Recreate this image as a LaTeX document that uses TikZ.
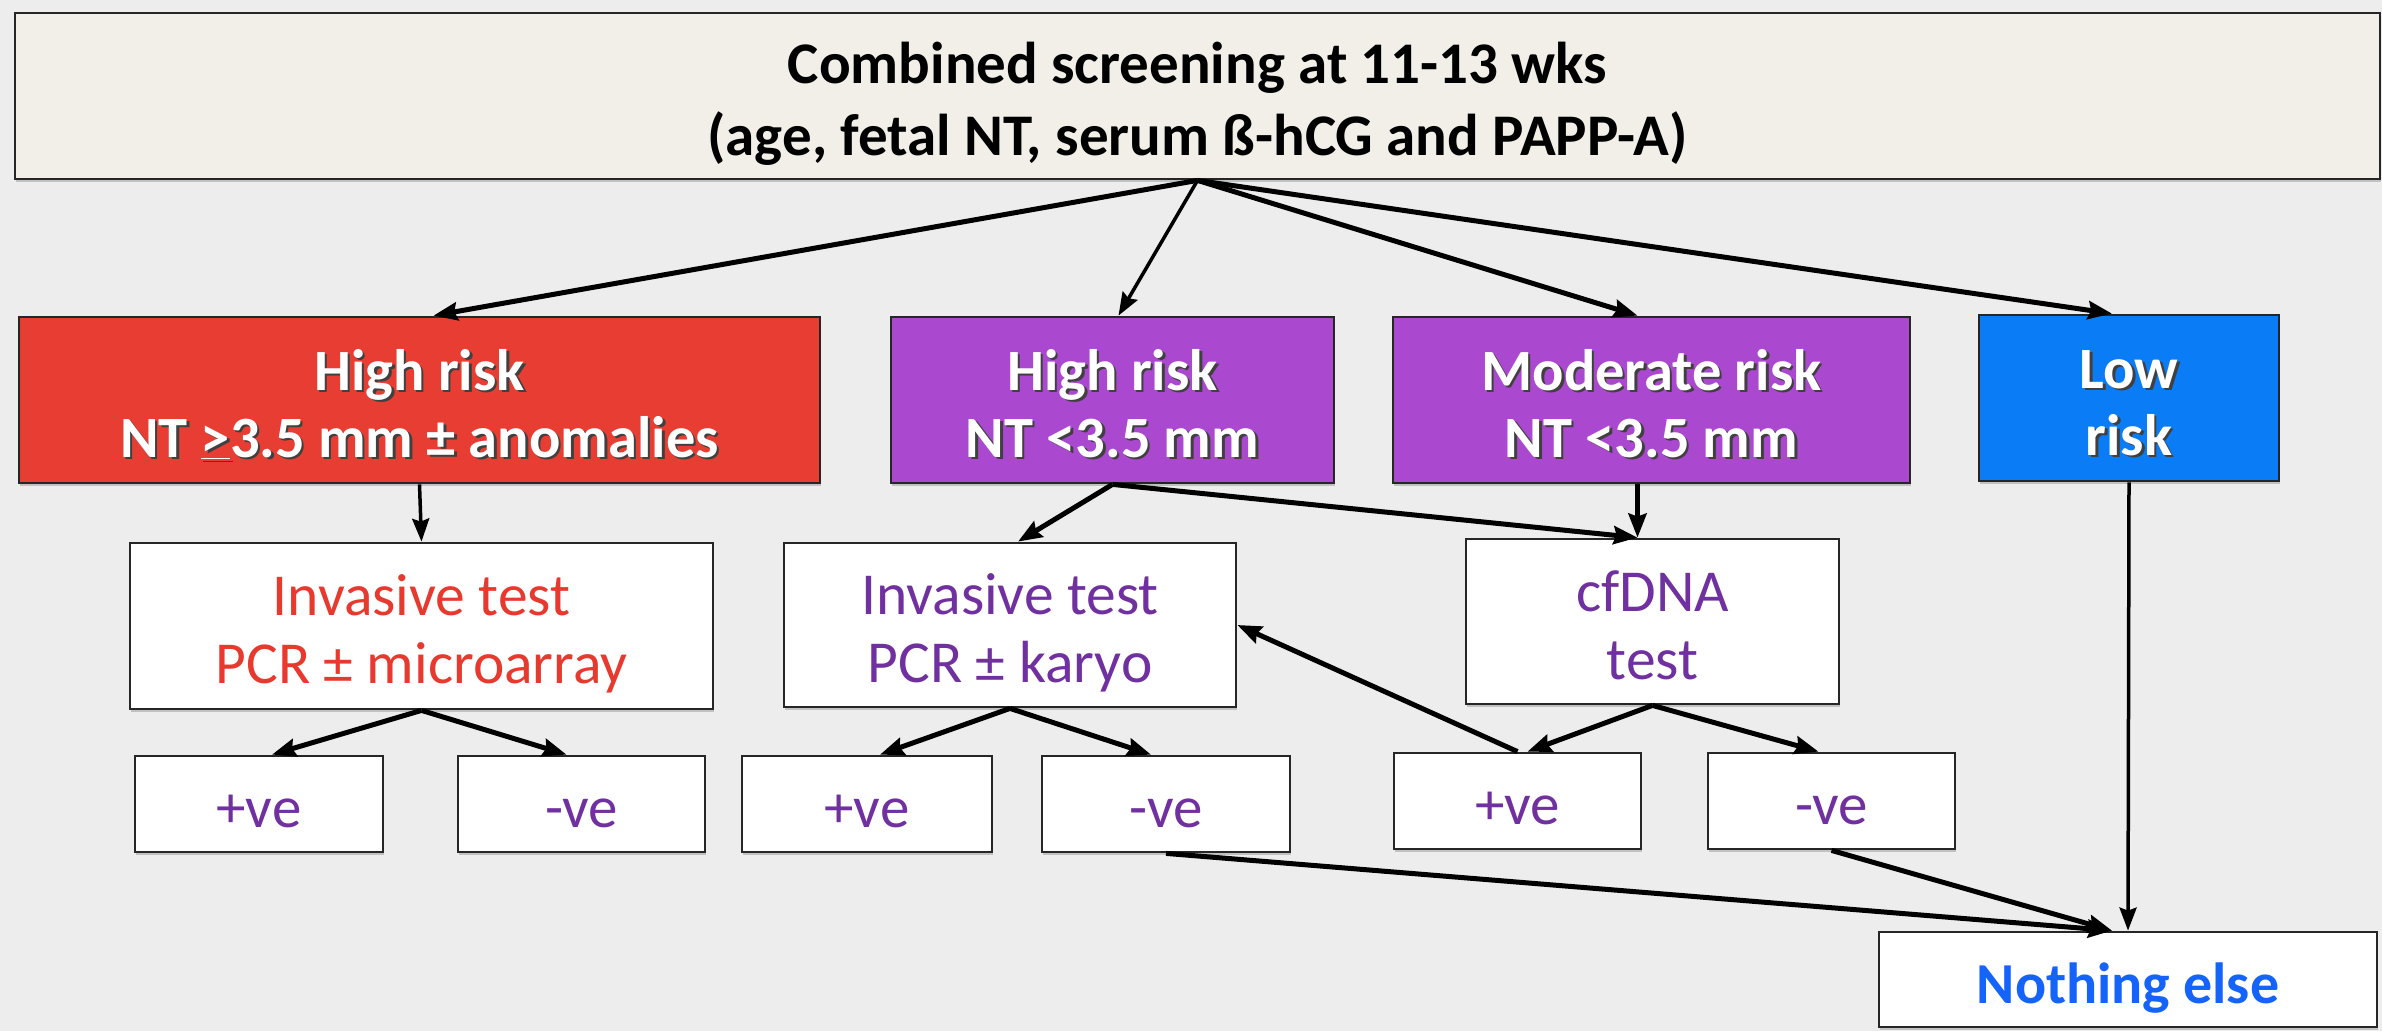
\documentclass[tikz,border=0pt]{standalone}
\usepackage{fontspec}
\setmainfont{Carlito}
\usetikzlibrary{arrows.meta,calc,shadows}

\definecolor{bgcol}{HTML}{EDEDED}
\definecolor{topfill}{HTML}{F1EFE8}
\definecolor{redfill}{HTML}{E83D33}
\definecolor{purfill}{HTML}{AB48D0}
\definecolor{bluefill}{HTML}{0A7CF5}
\definecolor{redtext}{HTML}{E8392F}
\definecolor{purtext}{HTML}{7030A0}
\definecolor{bluetext}{HTML}{1463FA}
\definecolor{edgecol}{HTML}{262626}

% white label text with a soft dark drop shadow
\newcommand\shtext[1]{\leavevmode\rlap{\kern2.5pt\raisebox{-2.5pt}{\color{black!75}#1}}#1}
% struts fixing the first-line ascent and last-line descent of every label
\newcommand\topst{\rule{0pt}{67pt}}
\newcommand\botst{\rule[-20pt]{0pt}{20pt}}

\tikzset{
  boxbase/.style={rectangle, draw=edgecol, line width=2.8pt, inner sep=0pt,
    align=center, drop shadow={shadow xshift=0.8pt, shadow yshift=-3pt, opacity=0.4}},
  headbox/.style={boxbase, fill=topfill, text=black,
    font=\fontsize{59}{72}\selectfont\bfseries},
  riskbox/.style={boxbase, fill=#1, text=white,
    font=\fontsize{58.5}{67}\selectfont\bfseries},
  testbox/.style={boxbase, fill=white, text=#1,
    font=\fontsize{59.5}{68}\selectfont},
  resbox/.style={boxbase, fill=white, text=purtext,
    font=\fontsize{59}{60}\selectfont},
  endbox/.style={boxbase, fill=white, text=bluetext,
    font=\fontsize{58}{60}\selectfont\bfseries},
  arr/.style={-{Stealth[length=24pt,width=18pt,inset=3pt]}, line width=5pt, black},
  arrthin/.style={-{Stealth[length=23pt,width=17pt,inset=3pt]}, line width=3.5pt, black},
}

\begin{document}
\begin{tikzpicture}[x=1pt,y=-1pt]
\fill[bgcol] (0,0) rectangle (2382,1031);
\useasboundingbox (0,0) rectangle (2382,1031);

% screening box
\node[headbox, minimum width=2365pt, minimum height=166pt] (top) at (1197.5,96)
  {\topst Combined screening at 11-13 wks\\(age, fetal NT, serum ß-hCG and PAPP-A)\botst};

% risk groups
\node[riskbox=redfill, minimum width=801pt, minimum height=166pt] (hr) at (419.5,400)
  {\topst\shtext{High risk}\\\shtext{NT \underline{>}3.5 mm ± anomalies}\botst};
\node[riskbox=purfill, minimum width=443pt, minimum height=166pt] (hp) at (1112.5,400)
  {\topst\shtext{High risk}\\\shtext{NT <3.5 mm}\botst};
\node[riskbox=purfill, minimum width=517pt, minimum height=166pt] (mr) at (1651.5,400)
  {\topst\shtext{Moderate risk}\\\shtext{NT <3.5 mm}\botst};
\node[riskbox=bluefill, minimum width=300pt, minimum height=166pt] (lr) at (2129,398)
  {\topst\shtext{Low}\\\shtext{risk}\botst};

% tests
\node[testbox=redtext, minimum width=583pt, minimum height=166pt] (ir) at (421.5,626)
  {\topst Invasive test\\PCR ± microarray\botst};
\node[testbox=purtext, minimum width=452pt, minimum height=164pt] (ip) at (1010,625)
  {\topst Invasive test\\PCR ± karyo\botst};
\node[testbox=purtext, minimum width=373pt, minimum height=165pt] (cf) at (1652.5,621.5)
  {\topst cfDNA\\test\botst};

% results
\node[resbox, minimum width=248pt, minimum height=96pt] (p1) at (259,804) {\topst+ve\botst};
\node[resbox, minimum width=247pt, minimum height=96pt] (n1) at (581.5,804) {\topst-ve\botst};
\node[resbox, minimum width=250pt, minimum height=96pt] (p2) at (867,804) {\topst+ve\botst};
\node[resbox, minimum width=248pt, minimum height=96pt] (n2) at (1166,804) {\topst-ve\botst};
\node[resbox, minimum width=247pt, minimum height=96pt] (p3) at (1517.5,801) {\topst+ve\botst};
\node[resbox, minimum width=247pt, minimum height=96pt] (n3) at (1831.5,801) {\topst-ve\botst};

\node[endbox, minimum width=498pt, minimum height=95pt] (ne) at (2128,979.5)
  {\topst Nothing else\botst};

% connectors
\draw[arr] (top.south) -- ($(hr.north)+(14,0)$);
\draw[arrthin] (top.south) -- ($(hp.north)+(6,0)$);
\draw[arr] (top.south) -- ($(mr.north)+(-14,0)$);
\draw[arr] (top.south) -- ($(lr.north)+(-17,0)$);

\draw[arrthin] (hr.south) -- (ir.north);
\draw[arr] (hp.south) -- ($(ip.north)+(8,0)$);
\draw[arr] (hp.south) -- ($(cf.north)+(-15,0)$);
\draw[arr] ($(mr.south)+(-14,0)$) -- ($(cf.north)+(-15,0)$);

\draw[arr] (ir.south) -- ($(p1.north)+(13,0)$);
\draw[arr] (ir.south) -- ($(n1.north)+(-15,0)$);
\draw[arr] (ip.south) -- ($(p2.north)+(13,0)$);
\draw[arr] (ip.south) -- ($(n2.north)+(-15,0)$);
\draw[arr] (cf.south) -- ($(p3.north)+(10,0)$);
\draw[arr] (cf.south) -- ($(n3.north)+(-13,0)$);
\draw[arr] (p3.north) -- (ip.east);

\draw[arr] (n2.south) -- ($(ne.north)+(-16,0)$);
\draw[arr] (n3.south) -- ($(ne.north)+(-16,0)$);
\draw[arrthin] (lr.south) -- (ne.north);
\end{tikzpicture}
\end{document}
